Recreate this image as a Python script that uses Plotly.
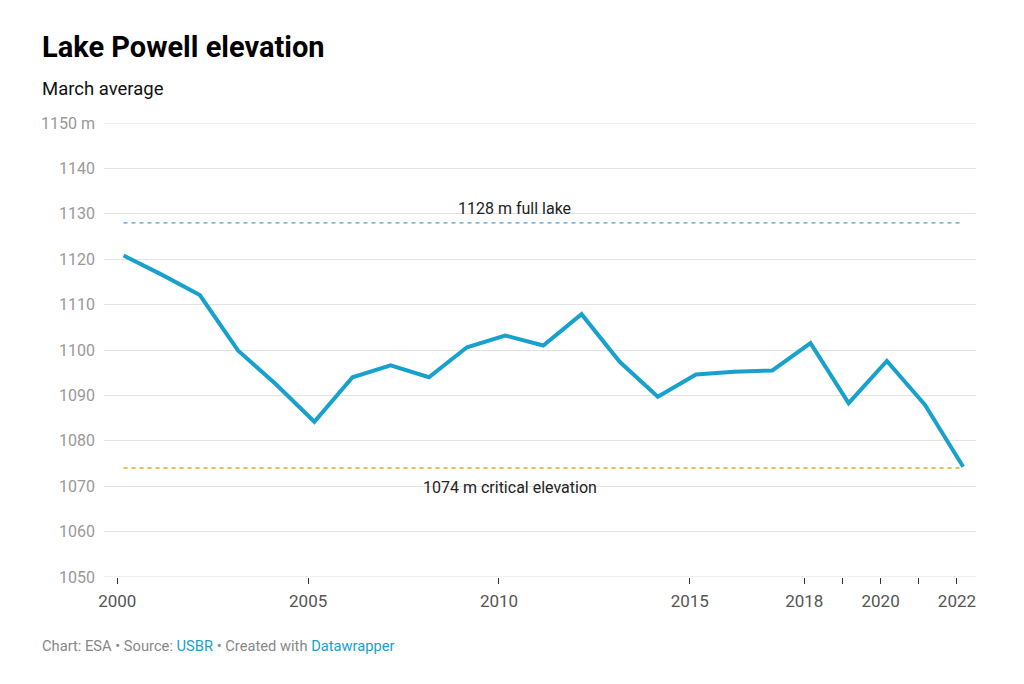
import plotly.graph_objects as go

years = list(range(2000, 2023))
elevation = [1120.8, 1116.6, 1112.1, 1099.9, 1092.4, 1084.2, 1094.0, 1096.6, 1094.0,
             1100.6, 1103.2, 1101.0, 1107.9, 1097.4, 1089.7, 1094.6, 1095.2, 1095.5,
             1101.5, 1088.3, 1097.6, 1087.9, 1074.3]
dates = [f"{y}-03-01" for y in years]

full_lake = 1128
critical = 1074
full_label = "1128 m full lake"
critical_label = "1074 m critical elevation"

x_tick_years = [2000, 2005, 2010, 2015, 2018, 2019, 2020, 2021, 2022]
x_tick_text = ["2000", "2005", "2010", "2015", "2018", "", "2020", "", "2022"]
y_ticks = [1050, 1060, 1070, 1080, 1090, 1100, 1110, 1120, 1130, 1140, 1150]
y_tick_text = [str(v) for v in y_ticks[:-1]] + ["1150 m"]

FONT = "Roboto, Arial, sans-serif"
GRID = "#e3e3e3"

# page has an 8px body margin; figure coordinates below are page coords minus 8
W, H = 1010, 670
L, T = 96, 115
PW, PH = 872, 454
R = W - L - PW
B = H - T - PH

def py(page_y):
    return 1 - ((page_y - 8) - T) / PH

def px(page_x):
    return ((page_x - 8) - L) / PW

fig = go.Figure()
fig.add_trace(go.Scatter(
    x=dates, y=elevation, mode="lines",
    line=dict(color="#18a1cd", width=4),
    hoverinfo="x+y", showlegend=False,
))

# edge gridlines (plotly skips gridlines that sit on the plot border)
for gy in (y_ticks[0], y_ticks[-1]):
    fig.add_shape(type="line", xref="paper", yref="y", x0=0, x1=1, y0=gy, y1=gy,
                  line=dict(color=GRID, width=1), layer="below")

fig.add_shape(type="line", xref="x", yref="y", x0=dates[0], x1=dates[-1],
              y0=full_lake, y1=full_lake,
              line=dict(color="#4d9cc4", width=1.4, dash="4px,4px"), layer="below")
fig.add_shape(type="line", xref="x", yref="y", x0=dates[0], x1=dates[-1],
              y0=critical, y1=critical,
              line=dict(color="#ff9a1a", width=1.4, dash="4px,4px"), layer="below")

annotations = [
    dict(xref="paper", yref="y", x=px(514), y=full_lake, text=full_label,
         showarrow=False, yshift=14, font=dict(family=FONT, size=16, color="#222")),
    dict(xref="paper", yref="y", x=px(510), y=critical, text=critical_label,
         showarrow=False, yshift=-19, font=dict(family=FONT, size=16, color="#222")),
    dict(xref="paper", yref="paper", x=px(40), y=py(47), xanchor="left", yanchor="middle",
         text="<b>Lake Powell elevation</b>", showarrow=False,
         font=dict(family=FONT, size=29, color="#000")),
    dict(xref="paper", yref="paper", x=px(40), y=py(89), xanchor="left", yanchor="middle",
         text="March average", showarrow=False,
         font=dict(family=FONT, size=18.5, color="#111")),
    dict(xref="paper", yref="paper", x=px(40), y=py(646), xanchor="left", yanchor="middle",
         text="Chart: ESA • Source: <span style='color:#18a1cd'>USBR</span> • Created with <span style='color:#18a1cd'>Datawrapper</span>",
         showarrow=False, font=dict(family=FONT, size=14.7, color="#888")),
]

fig.update_layout(
    width=W, height=H,
    margin=dict(l=L, r=R, t=T, b=B, pad=0),
    paper_bgcolor="white", plot_bgcolor="white",
    font=dict(family=FONT),
    annotations=annotations,
)

fig.update_xaxes(
    type="date", range=["1999-08-27", "2022-07-02"],
    tickvals=[f"{y}-01-01" for y in x_tick_years], ticktext=x_tick_text,
    ticks="outside", ticklen=6, tickwidth=1, tickcolor="#333",
    showgrid=False, zeroline=False, showline=False,
    tickfont=dict(family=FONT, size=17, color="#555"),
    ticklabelstandoff=3,
)
fig.update_yaxes(
    range=[1050, 1150], tickvals=y_ticks, ticktext=y_tick_text,
    showgrid=True, gridcolor=GRID, gridwidth=1, zeroline=False, showline=False,
    tickfont=dict(family=FONT, size=16, color="#999"),
    ticks="", ticklabelstandoff=8,
)

fig.write_html("out.html")
